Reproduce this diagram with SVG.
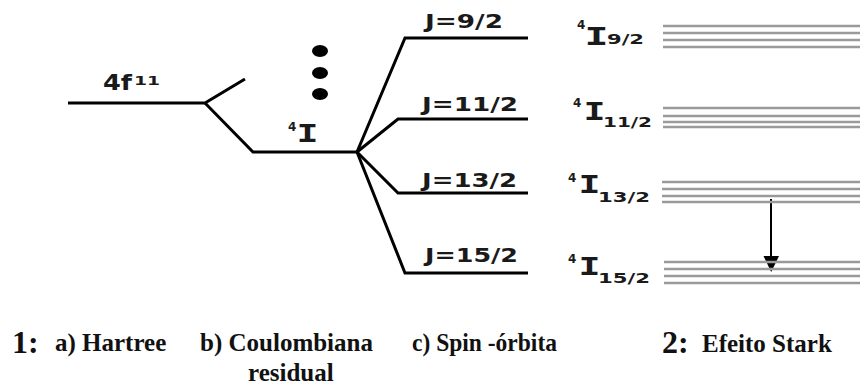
<svg xmlns="http://www.w3.org/2000/svg" width="860" height="387" viewBox="0 0 860 387">
<style>
.lv{fill:none;stroke:#000;stroke-width:3;stroke-linejoin:miter}
.st{stroke:#9a9a9a;stroke-width:2.5}
.j{font-family:"DejaVu Sans",sans-serif;font-weight:bold;font-size:19px;fill:#1a1a1a}
.big{font-family:"DejaVu Sans Mono",monospace;font-weight:bold;font-size:25px;fill:#1a1a1a}
.sup{font-family:"DejaVu Sans",sans-serif;font-weight:bold;font-size:12px;fill:#1a1a1a}
.sub{font-family:"DejaVu Sans",sans-serif;font-weight:bold;font-size:14px;fill:#1a1a1a}
.cap{font-family:"Liberation Serif",serif;font-weight:bold;font-size:25px;fill:#111}
.num{font-family:"Liberation Serif",serif;font-weight:bold;font-size:32px;fill:#111}
</style>
<g id="connectors">
<polyline class="lv" points="68,103 205,103 245,79"/>
<polyline class="lv" points="205,103 253,152 358,152"/>
<polyline class="lv" points="357,152 405,38 528,38"/>
<polyline class="lv" points="357,152 398,119 528,119"/>
<polyline class="lv" points="357,152 398,193 528,193"/>
<polyline class="lv" points="357,152 405,273 528,273"/>
<line x1="771" y1="199" x2="771" y2="258" stroke="#000" stroke-width="2"/>
<path d="M763.5,256 L779,256 L771.2,272 Z" fill="#000"/>
</g>
<g id="config">
<text x="103" y="90" font-family="DejaVu Sans,sans-serif" font-weight="bold" font-size="22" fill="#1a1a1a" textLength="29" lengthAdjust="spacingAndGlyphs">4f</text>
<text x="134" y="85" class="sup" textLength="26" lengthAdjust="spacingAndGlyphs">11</text>
</g>
<g id="dots">
<ellipse cx="320" cy="51" rx="8" ry="6" fill="#000"/>
<ellipse cx="320" cy="73" rx="8" ry="6" fill="#000"/>
<ellipse cx="320" cy="94" rx="8" ry="6" fill="#000"/>
</g>
<g id="term4I">
<text x="288" y="131" class="sup">4</text>
<text x="296.6" y="142" class="big" textLength="22" lengthAdjust="spacingAndGlyphs">I</text>
</g>
<g id="J-labels">
<text x="425" y="28" class="j" textLength="78" lengthAdjust="spacingAndGlyphs">J=9/2</text>
<text x="422" y="111" class="j" textLength="96" lengthAdjust="spacingAndGlyphs">J=11/2</text>
<text x="422" y="187" class="j" textLength="95" lengthAdjust="spacingAndGlyphs">J=13/2</text>
<text x="425" y="262" class="j" textLength="93" lengthAdjust="spacingAndGlyphs">J=15/2</text>
</g>
<g id="stark-9-2">
<text x="577" y="29" class="sup">4</text>
<text x="584.6" y="45" class="big" textLength="24" lengthAdjust="spacingAndGlyphs">I</text>
<text x="607" y="44" class="sub" textLength="37" lengthAdjust="spacingAndGlyphs">9/2</text>
<line class="st" x1="663" y1="26" x2="860" y2="26"/>
<line class="st" x1="663" y1="33" x2="860" y2="33"/>
<line class="st" x1="663" y1="40" x2="860" y2="40"/>
<line class="st" x1="663" y1="47" x2="860" y2="47"/>
</g>
<g id="stark-11-2">
<text x="573" y="107" class="sup">4</text>
<text x="583.6" y="120" class="big" textLength="22" lengthAdjust="spacingAndGlyphs">I</text>
<text x="603" y="127" class="sub" textLength="49" lengthAdjust="spacingAndGlyphs">11/2</text>
<line class="st" x1="663" y1="108" x2="860" y2="108"/>
<line class="st" x1="663" y1="116" x2="860" y2="116"/>
<line class="st" x1="663" y1="122" x2="860" y2="122"/>
<line class="st" x1="663" y1="127" x2="860" y2="127"/>
</g>
<g id="stark-13-2">
<text x="568" y="182" class="sup">4</text>
<text x="578.6" y="193" class="big" textLength="22" lengthAdjust="spacingAndGlyphs">I</text>
<text x="598" y="202" class="sub" textLength="52" lengthAdjust="spacingAndGlyphs">13/2</text>
<line class="st" x1="662" y1="182" x2="860" y2="182"/>
<line class="st" x1="662" y1="189" x2="860" y2="189"/>
<line class="st" x1="662" y1="196" x2="860" y2="196"/>
<line class="st" x1="662" y1="202" x2="860" y2="202"/>
</g>
<g id="stark-15-2">
<text x="568" y="263" class="sup">4</text>
<text x="578.6" y="275" class="big" textLength="22" lengthAdjust="spacingAndGlyphs">I</text>
<text x="598" y="283" class="sub" textLength="52" lengthAdjust="spacingAndGlyphs">15/2</text>
<line class="st" x1="664" y1="262" x2="860" y2="262"/>
<line class="st" x1="664" y1="269" x2="860" y2="269"/>
<line class="st" x1="664" y1="276" x2="860" y2="276"/>
<line class="st" x1="664" y1="283" x2="860" y2="283"/>
</g>
<g id="captions">
<text x="12" y="353" class="num">1:</text>
<text x="55" y="351" class="cap">a) Hartree</text>
<text x="200" y="351" class="cap">b) Coulombiana</text>
<text x="248" y="381" class="cap">residual</text>
<text x="412" y="351" class="cap" textLength="145" lengthAdjust="spacingAndGlyphs">c) Spin -órbita</text>
<text x="662" y="353" class="num">2:</text>
<text x="702" y="352" class="cap">Efeito Stark</text>
</g>
</svg>
